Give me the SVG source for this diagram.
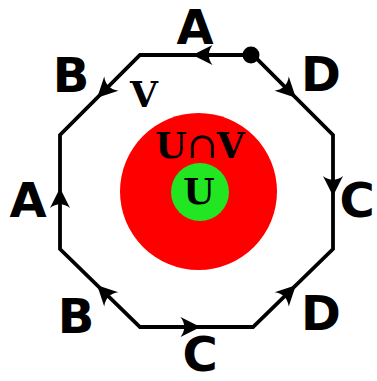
<svg xmlns="http://www.w3.org/2000/svg" xmlns:xlink="http://www.w3.org/1999/xlink" width="377" height="381" viewBox="0 0 377 381">
<style>
.edge{fill:none;stroke:#000;stroke-width:3.8;stroke-linejoin:miter}
.lbl{font-family:"DejaVu Sans",Verdana,sans-serif;font-weight:bold;font-size:48px;fill:#000;text-anchor:middle}
.ser{font-family:"DejaVu Serif","Liberation Serif",serif;font-weight:bold;font-size:36px;fill:#000;text-anchor:middle}
</style>
<defs>
<path id="ah" d="M4,0 L-16,-10 C-11,-3.5 -11,3.5 -16,10 Z" fill="#000"/>
</defs>
<g id="region">
<circle cx="198.5" cy="191.5" r="78.5" fill="#ff0000"/>
<circle cx="200" cy="192" r="29" fill="#22e622"/>
</g>
<g id="connectors">
<polygon class="edge" points="140,55 253,55 333,135 333,249 253,327 140,327 60,249 60,135"/>
<use xlink:href="#ah" transform="translate(196.5,55) rotate(180)"/>
<use xlink:href="#ah" transform="translate(100,95) rotate(135)"/>
<use xlink:href="#ah" transform="translate(60,192) rotate(-90)"/>
<use xlink:href="#ah" transform="translate(100,288) rotate(-135)"/>
<use xlink:href="#ah" transform="translate(196.5,327) rotate(0)"/>
<use xlink:href="#ah" transform="translate(293,288) rotate(-45)"/>
<use xlink:href="#ah" transform="translate(333,192) rotate(90)"/>
<use xlink:href="#ah" transform="translate(293,95) rotate(45)"/>
<circle cx="251" cy="55" r="8.5" fill="#000"/>
</g>
<g id="label-A-top"><text class="lbl" x="195" y="44">A</text></g>
<g id="label-B-top"><text class="lbl" x="71" y="92">B</text></g>
<g id="label-D-top"><text class="lbl" x="321" y="91">D</text></g>
<g id="label-A-left"><text class="lbl" x="28" y="217">A</text></g>
<g id="label-C-right"><text class="lbl" x="357" y="217">C</text></g>
<g id="label-B-bottom"><text class="lbl" x="76" y="333">B</text></g>
<g id="label-C-bottom"><text class="lbl" x="200" y="371">C</text></g>
<g id="label-D-bottom"><text class="lbl" x="321" y="330">D</text></g>
<g id="label-V"><text class="ser" x="144" y="107">V</text></g>
<g id="label-UV"><text class="ser" x="200" y="158">U<tspan font-weight="normal">∩</tspan>V</text></g>
<g id="label-U"><text class="ser" x="199" y="204">U</text></g>
</svg>
